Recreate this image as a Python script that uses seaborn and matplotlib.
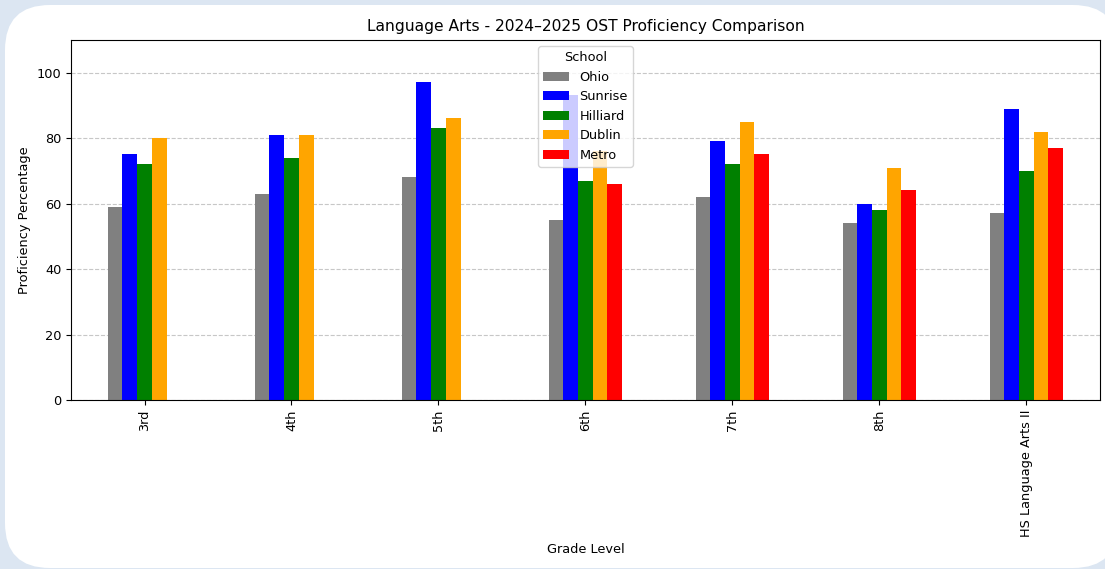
import pandas as pd
import numpy as np
import matplotlib
matplotlib.use("Agg")
import matplotlib.pyplot as plt
from matplotlib.patches import FancyBboxPatch
import seaborn as sns

# values
grades = ['3rd', '4th', '5th', '6th', '7th', '8th', 'HS Language Arts II']
schools = ['Ohio', 'Sunrise', 'Hilliard', 'Dublin', 'Metro']
ohio = [59, 63, 68, 55, 62, 54, 57]
sunrise = [75, 81, 97, 93, 79, 60, 89]
hilliard = [72, 74, 83, 67, 72, 58, 70]
dublin = [80, 81, 86, 76, 85, 71, 82]
metro = [np.nan, np.nan, np.nan, 66, 75, 64, 77]
colors = ['gray', 'blue', 'green', 'orange', 'red']

wide = pd.DataFrame({'Grade Level': grades, 'Ohio': ohio, 'Sunrise': sunrise,
                     'Hilliard': hilliard, 'Dublin': dublin, 'Metro': metro})
df = wide.melt(id_vars='Grade Level', var_name='School',
               value_name='Proficiency Percentage')

plt.rcParams['font.size'] = 9.3

fig = plt.figure(figsize=(11.05, 5.69), dpi=100)
fig.patch.set_facecolor('#dce6f2')
# white rounded card behind the chart
card = FancyBboxPatch((0.05, 0.01), 11.13, 5.63,
                      boxstyle='round,pad=0,rounding_size=0.45',
                      transform=fig.dpi_scale_trans,
                      facecolor='white', edgecolor='none', zorder=-1)
fig.patches.append(card)

ax = fig.add_axes([0.0643, 0.297, 0.931, 0.633])
sns.barplot(data=df, x='Grade Level', y='Proficiency Percentage', hue='School',
            order=grades, hue_order=schools, palette=colors, saturation=1,
            width=0.5, linewidth=0, errorbar=None, ax=ax)

ax.set_xlim(-0.5, len(grades) - 0.5)
ax.set_ylim(0, 110)
ax.set_title('Language Arts - 2024\u20132025 OST Proficiency Comparison', fontsize=11.2)
ax.set_xlabel('Grade Level')
ax.set_ylabel('Proficiency Percentage')
ax.tick_params(axis='x', labelrotation=90)
ax.grid(axis='y', linestyle='--', alpha=0.7)
ax.set_axisbelow(True)
ax.legend(title='School', loc='upper center')

fig.savefig('out.png', dpi=100, facecolor=fig.get_facecolor())
